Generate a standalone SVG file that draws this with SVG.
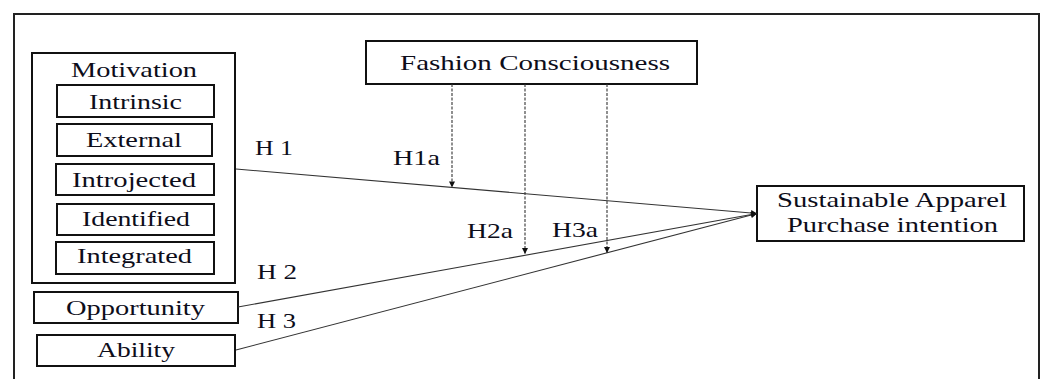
<svg xmlns="http://www.w3.org/2000/svg" width="1045" height="379" viewBox="0 0 1045 379">
<defs>
<style>
.box{fill:#fff;stroke:#111;stroke-width:2}
.t{font-family:"Liberation Serif","Times New Roman",serif;font-size:22px;fill:#0d0d1a}
.ln{stroke:#333;stroke-width:1.1;fill:none}
.dl{stroke:#333;stroke-width:1.1;fill:none;stroke-dasharray:3,1.5}
</style>
<marker id="ah" viewBox="0 0 10 10" refX="10" refY="5" markerWidth="7" markerHeight="6" markerUnits="userSpaceOnUse" orient="auto">
<path d="M0,0 L10,5 L0,10 z" fill="#111"/>
</marker>
</defs>
<rect x="0" y="0" width="1045" height="379" fill="#fff"/>
<path d="M14,379 L14,14 L1039,14 L1039,379" fill="none" stroke="#222" stroke-width="2"/>

<g id="motivation">
<rect class="box" x="32" y="53" width="203" height="230"/>
<text class="t" x="71" y="77" textLength="126" lengthAdjust="spacingAndGlyphs">Motivation</text>
</g>
<g id="intrinsic">
<rect class="box" x="57" y="85" width="157" height="32"/>
<text class="t" x="89" y="109" textLength="93" lengthAdjust="spacingAndGlyphs">Intrinsic</text>
</g>
<g id="external">
<rect class="box" x="57" y="124" width="155" height="32"/>
<text class="t" x="86" y="147" textLength="96" lengthAdjust="spacingAndGlyphs">External</text>
</g>
<g id="introjected">
<rect class="box" x="56" y="164" width="158" height="31"/>
<text class="t" x="72" y="187" textLength="124" lengthAdjust="spacingAndGlyphs">Introjected</text>
</g>
<g id="identified">
<rect class="box" x="57" y="204" width="157" height="31"/>
<text class="t" x="82" y="226" textLength="108" lengthAdjust="spacingAndGlyphs">Identified</text>
</g>
<g id="integrated">
<rect class="box" x="56" y="242" width="158" height="32"/>
<text class="t" x="77" y="263" textLength="115" lengthAdjust="spacingAndGlyphs">Integrated</text>
</g>
<g id="opportunity">
<rect class="box" x="34" y="292" width="204" height="31"/>
<text class="t" x="66" y="315" textLength="139" lengthAdjust="spacingAndGlyphs">Opportunity</text>
</g>
<g id="ability">
<rect class="box" x="37" y="335" width="198" height="31"/>
<text class="t" x="97" y="357" textLength="78" lengthAdjust="spacingAndGlyphs">Ability</text>
</g>
<g id="fashion">
<rect class="box" x="366" y="41" width="331" height="43"/>
<text class="t" x="400" y="70" textLength="270" lengthAdjust="spacingAndGlyphs">Fashion Consciousness</text>
</g>
<g id="target">
<rect class="box" x="757" y="186" width="267" height="55"/>
<text class="t" x="777" y="207" textLength="230" lengthAdjust="spacingAndGlyphs">Sustainable Apparel</text>
<text class="t" x="787" y="232" textLength="211" lengthAdjust="spacingAndGlyphs">Purchase intention</text>
</g>

<g id="connectors">
<line class="ln" x1="236" y1="169" x2="757" y2="213.5" marker-end="url(#ah)"/>
<line class="ln" x1="238" y1="307" x2="757" y2="213.5" marker-end="url(#ah)"/>
<line class="ln" x1="236" y1="350" x2="757" y2="213.5" marker-end="url(#ah)"/>
<line class="dl" x1="452" y1="84" x2="452" y2="187.5" marker-end="url(#ah)"/>
<line class="dl" x1="525" y1="84" x2="525" y2="254" marker-end="url(#ah)"/>
<line class="dl" x1="607" y1="84" x2="607" y2="253" marker-end="url(#ah)"/>
</g>

<g id="labels">
<text class="t" x="255" y="155" textLength="38" lengthAdjust="spacingAndGlyphs">H 1</text>
<text class="t" x="257" y="279" textLength="40" lengthAdjust="spacingAndGlyphs">H 2</text>
<text class="t" x="257" y="328" textLength="39" lengthAdjust="spacingAndGlyphs">H 3</text>
<text class="t" x="393" y="165" textLength="47" lengthAdjust="spacingAndGlyphs">H1a</text>
<text class="t" x="467" y="238" textLength="46" lengthAdjust="spacingAndGlyphs">H2a</text>
<text class="t" x="552" y="237" textLength="46" lengthAdjust="spacingAndGlyphs">H3a</text>
</g>
</svg>
